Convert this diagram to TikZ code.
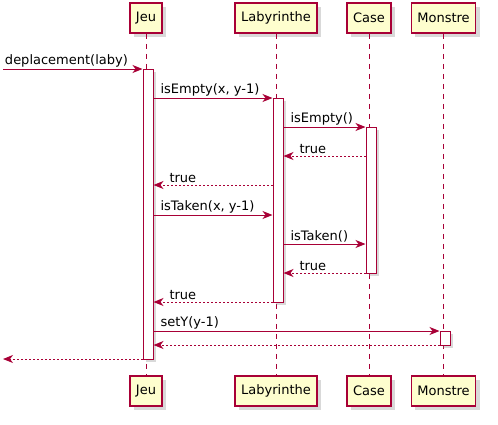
\documentclass[tikz,border=0pt]{standalone}
\usepackage{fontspec}
\setmainfont{DejaVu Sans}
\usetikzlibrary{arrows.meta,shadows}
\definecolor{umlred}{HTML}{A80036}
\definecolor{umlfill}{HTML}{FEFECE}

\begin{document}
\begin{tikzpicture}[x=1pt,y=-1pt,line width=1pt,
	txt/.style={font=\fontsize{13}{15}\selectfont},
	part/.style={txt,draw=umlred,fill=umlfill,line width=1.5pt,minimum height=30pt,inner xsep=6pt,
		drop shadow={shadow xshift=4pt,shadow yshift=-4pt,opacity=0.3}},
	act/.style={draw=umlred,fill=white,minimum width=10pt,inner sep=0pt,
		drop shadow={shadow xshift=3pt,shadow yshift=-3pt,opacity=0.3}},
	life/.style={draw=umlred,dash pattern=on 5pt off 5pt},
	msg/.style={draw=umlred,-{Stealth[length=10pt,width=8pt,inset=3pt]}},
	ret/.style={msg,dash pattern=on 2pt off 2pt},
	lbl/.style={txt,anchor=south west,inner sep=1.5pt}]
	\useasboundingbox (0,0) rectangle (498,424);
	
	% participants, top and bottom
	\node[part] (jeu) at (146,18) {Jeu};
	\node[part] (laby) at (276,18) {Labyrinthe};
	\node[part] (case) at (369,18) {Case};
	\node[part] (mon) at (443.5,18) {Monstre};
	\node[part] (jeu2) at (146,391) {Jeu};
	\node[part] (laby2) at (276,391) {Labyrinthe};
	\node[part] (case2) at (369,391) {Case};
	\node[part] (mon2) at (443.5,391) {Monstre};
	
	\foreach \a/\b in {jeu/jeu2,laby/laby2,case/case2,mon/mon2}
		\draw[life] (\a.south) -- (\b.north);
	
	% activations
	\node[act,minimum height=290pt] (aJ) at (148,214) {};
	\node[act,minimum height=204pt] (aL) at (278,200) {};
	\node[act,minimum height=146pt] (aC) at (371,200) {};
	\node[act,minimum height=14pt] (aM) at (445,338) {};
	
	% message levels
	\foreach \i/\y in {1/69,2/98,3/127,4/156,5/185,6/215,7/244,8/273,9/302,10/331,11/345,12/359}
		\coordinate (y\i) at (0,\y);
	\coordinate (in) at (3,69);
	\coordinate (out) at (3,359);
	
	\draw[msg] (in) -- (aJ.west |- y1) node[lbl,pos=0] at ([xshift=5pt]in) {deplacement(laby)};
	\draw[msg] (aJ.east |- y2) coordinate (s2) -- (aL.west |- y2);
	\node[lbl] at ([xshift=5pt]s2) {isEmpty(x, y-1)};
	\draw[msg] (aL.east |- y3) coordinate (s3) -- (aC.west |- y3);
	\node[lbl] at ([xshift=5pt]s3) {isEmpty()};
	\draw[ret] (aC.west |- y4) -- (aL.east |- y4) coordinate (e4);
	\node[lbl] at ([xshift=14pt]e4) {true};
	\draw[ret] (aL.west |- y5) -- (aJ.east |- y5) coordinate (e5);
	\node[lbl] at ([xshift=14pt]e5) {true};
	\draw[msg] (aJ.east |- y6) coordinate (s6) -- (aL.west |- y6);
	\node[lbl] at ([xshift=5pt]s6) {isTaken(x, y-1)};
	\draw[msg] (aL.east |- y7) coordinate (s7) -- (aC.west |- y7);
	\node[lbl] at ([xshift=5pt]s7) {isTaken()};
	\draw[ret] (aC.west |- y8) -- (aL.east |- y8) coordinate (e8);
	\node[lbl] at ([xshift=14pt]e8) {true};
	\draw[ret] (aL.west |- y9) -- (aJ.east |- y9) coordinate (e9);
	\node[lbl] at ([xshift=14pt]e9) {true};
	\draw[msg] (aJ.east |- y10) coordinate (s10) -- (aM.west |- y10);
	\node[lbl] at ([xshift=5pt]s10) {setY(y-1)};
	\draw[ret] (aM.west |- y11) -- (aJ.east |- y11);
	\draw[ret] (aJ.west |- y12) -- (out);
\end{tikzpicture}
\end{document}
